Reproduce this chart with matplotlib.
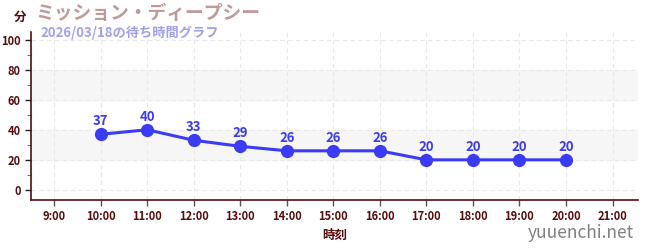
import matplotlib
matplotlib.use('Agg')
import matplotlib.pyplot as plt
from matplotlib.ticker import MultipleLocator

plt.rcParams['font.family'] = ['Noto Sans CJK JP', 'DejaVu Sans']

hours = [10, 11, 12, 13, 14, 15, 16, 17, 18, 19, 20]
waits = [37, 40, 33, 29, 26, 26, 26, 20, 20, 20, 20]
xticks = list(range(9, 22))
xlabels = ['%d:00' % h for h in xticks]

axis_col = '#5a0a0a'
line_col = '#3b3bf5'

fig = plt.figure(figsize=(6.5, 2.5), dpi=100)
ax = fig.add_axes([0.0477, 0.2, 0.934, 0.672])

ax.axhspan(20, 40, color='#f6f6f6', zorder=0)
ax.axhspan(60, 80, color='#f6f6f6', zorder=0)
ax.grid(True, color='#e8e8e8', linestyle=(0, (4, 3)), linewidth=0.8, zorder=1)

ax.plot(hours, waits, color=line_col, linewidth=2.2, marker='o', markersize=8.5, zorder=3)
for h, w in zip(hours, waits):
    ax.text(h, w + 4, str(w), color=line_col, ha='center', va='bottom',
            fontsize=9.5, fontweight='bold')

ax.set_xlim(8.5, 21.55)
ax.set_ylim(-6.7, 105)
ax.set_xticks(xticks)
ax.set_xticklabels(xlabels)
ax.set_yticks(range(0, 101, 20))
ax.yaxis.set_minor_locator(MultipleLocator(10))

for s in ['top', 'right']:
    ax.spines[s].set_visible(False)
for s in ['left', 'bottom']:
    ax.spines[s].set_color(axis_col)
    ax.spines[s].set_linewidth(1.2)

ax.tick_params(axis='both', labelsize=8, labelcolor=axis_col, length=4, width=1)
ax.tick_params(axis='y', colors='#222222', labelcolor=axis_col)
ax.tick_params(axis='y', which='minor', length=3, color='#e02020')
ax.tick_params(axis='x', colors='#555555', labelcolor=axis_col)
for t in ax.get_xticklabels() + ax.get_yticklabels():
    t.set_fontweight('bold')

ax.set_xlabel('時刻', color=axis_col, fontsize=9, fontweight='bold', labelpad=4)

fig.text(0.022, 0.93, '分', color=axis_col, fontsize=9, fontweight='bold', va='center')
fig.text(0.054, 0.945, 'ミッション・ディープシー', color='#c09a9a', fontsize=13.5,
         fontweight='bold', va='center')
fig.text(0.062, 0.868, '2026/03/18の待ち時間グラフ', color='#a0a0f0', fontsize=9.5,
         fontweight='bold', va='center')
fig.text(0.975, 0.07, 'yuuenchi.net', color='#808080', fontsize=12.5,
         ha='right', va='center')

fig.savefig('out.png', dpi=100)
